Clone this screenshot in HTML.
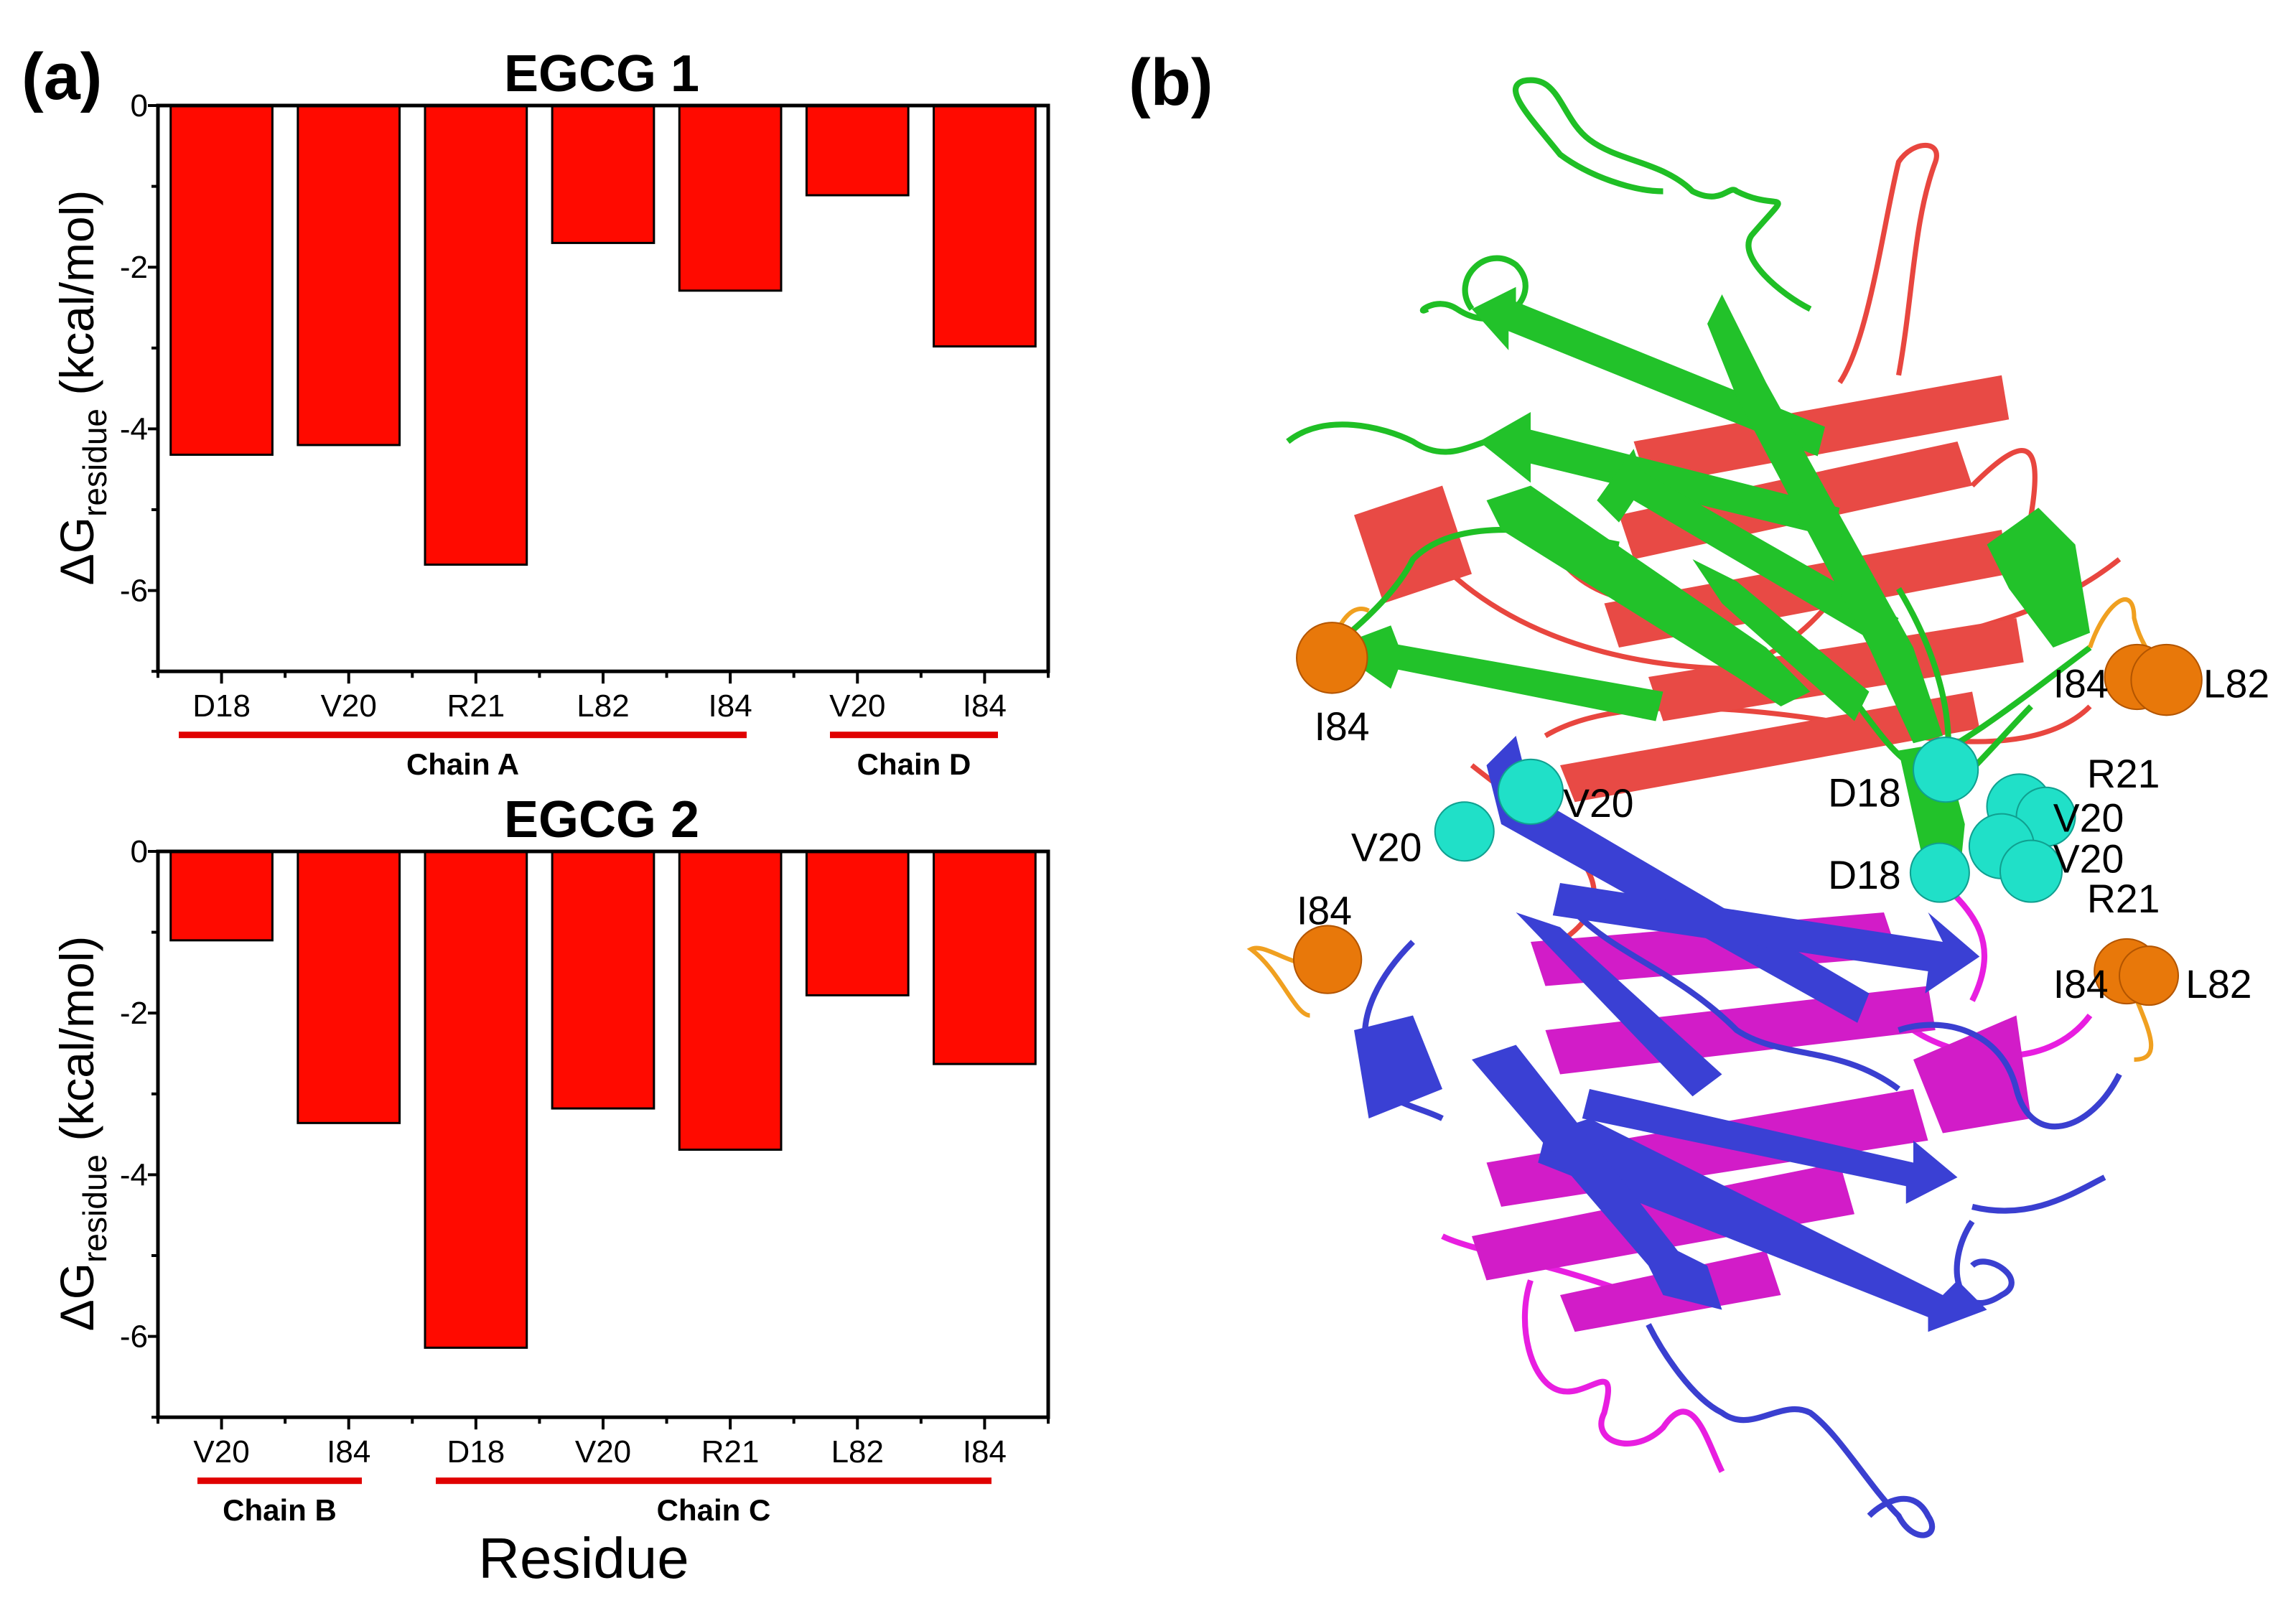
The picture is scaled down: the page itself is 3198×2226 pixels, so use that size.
<!DOCTYPE html>
<html><head><meta charset="utf-8"><style>
html,body{margin:0;padding:0;background:#fff}
svg{display:block}
text{font-family:"Liberation Sans",sans-serif}
</style></head><body>
<svg id="fig" width="3198" height="2226" viewBox="0 0 3198 2226" xmlns="http://www.w3.org/2000/svg">
<rect width="3198" height="2226" fill="#fff"/>
<text x="30" y="138" font-size="92" font-weight="bold">(a)</text>
<text x="1572" y="146" font-size="92" font-weight="bold">(b)</text>
<g id="charts"></g>
<text x="813" y="2198" font-size="80" text-anchor="middle">Residue</text>

<g id="protein" transform="scale(2.05)">
 <g fill="none" stroke="#e8463f" stroke-width="3.5">
  <path d="M1290,255 C1300,200 1300,150 1315,110 C1320,95 1300,95 1290,110 C1280,150 1270,230 1250,260"/>
  <path d="M960,360 C1000,420 1100,470 1250,450 C1330,430 1390,420 1440,380"/>
  <path d="M1050,500 C1100,470 1200,480 1300,500 C1360,510 1400,500 1420,480"/>
  <path d="M1000,520 C1050,560 1120,600 1060,640"/>
  <path d="M1340,330 C1370,300 1390,290 1380,350"/>
  <path d="M1060,380 C1090,420 1140,400 1160,440 C1180,470 1230,430 1250,400"/>
 </g>
 <g fill="#e84a45">
  <polygon points="1110,300 1360,255 1365,285 1120,330"/>
  <polygon points="1100,350 1330,300 1340,330 1110,380"/>
  <polygon points="1090,410 1360,360 1365,390 1100,440"/>
  <polygon points="1120,460 1370,420 1375,450 1130,490"/>
  <polygon points="1060,520 1340,470 1345,495 1070,545"/>
  <polygon points="920,350 980,330 1000,390 940,410"/>
 </g>
 <g fill="none" stroke="#1fbf25" stroke-width="4">
  <path d="M1130,130 C1110,130 1080,120 1060,105 C1040,80 1020,60 1035,55 C1060,50 1060,80 1080,95 C1100,110 1130,110 1150,130 C1170,140 1175,125 1180,130 C1210,145 1220,125 1190,160 C1180,175 1210,200 1230,210"/>
  <path d="M1000,210 C985,190 1010,165 1030,180 C1050,200 1020,230 990,210 C975,200 960,215 970,210"/>
  <path d="M875,300 C900,280 940,290 960,300 C990,320 1010,290 1030,300"/>
  <path d="M905,440 C930,420 950,400 960,380 C990,350 1050,360 1100,370"/>
  <path d="M1290,400 C1320,450 1330,500 1320,530 C1310,560 1360,500 1380,480"/>
  <path d="M1230,440 C1260,470 1280,510 1300,520 C1330,510 1380,470 1420,440"/>
 </g>
 <g fill="#22c22a">
  <polygon points="1000,210 1030,195 1030,205 1240,290 1235,310 1025,225 1025,238"/>
  <polygon points="1005,300 1040,280 1040,292 1250,345 1245,365 1040,315 1040,328"/>
  <polygon points="1085,340 1110,305 1115,320 1290,420 1280,440 1110,340 1100,355"/>
  <polygon points="1170,200 1200,260 1300,440 1320,500 1300,505 1270,440 1180,270 1160,220"/>
  <polygon points="905,440 945,425 950,438 1130,470 1125,490 950,455 945,468"/>
  <polygon points="1010,340 1040,330 1200,440 1230,470 1210,480 1180,460 1020,360"/>
  <polygon points="1150,380 1180,395 1270,470 1260,490 1170,410"/>
  <polygon points="1350,370 1385,345 1410,370 1420,430 1395,440 1365,400"/>
  <polygon points="1290,510 1320,505 1335,560 1330,610 1310,600"/>
 </g>
 <g fill="none" stroke="#e81ee0" stroke-width="4">
  <path d="M1040,870 C1030,900 1040,940 1060,945 C1080,950 1100,920 1090,960 C1080,980 1110,990 1130,970 C1150,940 1160,980 1170,1000"/>
  <path d="M1320,600 C1340,620 1360,640 1340,680"/>
  <path d="M1300,700 C1330,720 1390,730 1420,690"/>
  <path d="M980,840 C1000,850 1060,860 1110,880"/>
 </g>
 <g fill="#d21cc8">
  <polygon points="1040,640 1280,620 1290,650 1050,670"/>
  <polygon points="1050,700 1310,670 1315,700 1060,730"/>
  <polygon points="1010,790 1300,740 1310,775 1020,820"/>
  <polygon points="1000,840 1250,790 1260,825 1010,870"/>
  <polygon points="1060,880 1200,850 1210,880 1070,905"/>
  <polygon points="1300,720 1370,690 1380,760 1320,770"/>
 </g>
 <g fill="none" stroke="#3a3fd0" stroke-width="4">
  <path d="M1120,900 C1130,920 1150,950 1170,960 C1190,975 1210,950 1230,960 C1250,975 1270,1010 1290,1030 C1300,1050 1320,1045 1310,1030 C1300,1010 1280,1020 1270,1030"/>
  <path d="M960,640 C940,660 920,690 930,720 C935,750 960,750 980,760"/>
  <path d="M1340,830 C1320,860 1330,900 1360,880 C1380,870 1350,850 1340,860"/>
  <path d="M1290,700 C1320,690 1360,700 1370,740 C1380,780 1420,770 1440,730"/>
  <path d="M1340,820 C1380,830 1410,810 1430,800"/>
  <path d="M1070,620 C1100,650 1140,660 1180,700 C1210,720 1250,710 1290,740"/>
 </g>
 <g fill="#3a40d4">
  <polygon points="1020,560 1010,520 1030,500 1040,540 1270,675 1262,695"/>
  <polygon points="1060,600 1320,640 1310,620 1345,650 1308,675 1310,660 1055,622"/>
  <polygon points="1030,620 1060,630 1170,730 1150,745"/>
  <polygon points="1080,740 1300,790 1300,775 1330,800 1295,818 1295,806 1075,760"/>
  <polygon points="1050,770 1080,760 1320,880 1330,870 1350,890 1310,905 1310,895 1045,790"/>
  <polygon points="1000,720 1030,710 1140,850 1160,860 1170,890 1130,880 1120,860"/>
  <polygon points="920,700 960,690 980,740 930,760"/>
 </g>
 <g fill="none" stroke="#f0a020" stroke-width="3">
  <path d="M905,440 C910,420 920,410 930,415"/>
  <path d="M1420,440 C1430,410 1450,395 1450,420 C1455,440 1465,450 1470,455"/>
  <path d="M900,655 C880,660 860,640 850,645 C870,660 880,690 890,690"/>
  <path d="M1450,675 C1460,700 1470,720 1450,720"/>
 </g>
 <g fill="#e8780a" stroke="#b35500" stroke-width="1">
  <circle cx="905" cy="447" r="24"/>
  <circle cx="1452" cy="460" r="22"/>
  <circle cx="1472" cy="462" r="24"/>
  <circle cx="902" cy="652" r="23"/>
  <circle cx="1445" cy="660" r="22"/>
  <circle cx="1460" cy="663" r="20"/>
 </g>
 <g fill="#20e0c8" stroke="#10a090" stroke-width="1">
  <circle cx="995" cy="565" r="20"/>
  <circle cx="1040" cy="538" r="22"/>
  <circle cx="1322" cy="523" r="22"/>
  <circle cx="1372" cy="548" r="22"/>
  <circle cx="1390" cy="555" r="20"/>
  <circle cx="1360" cy="575" r="22"/>
  <circle cx="1380" cy="592" r="21"/>
  <circle cx="1318" cy="593" r="20"/>
 </g>
 <g font-size="27" fill="#000">
  <text x="893" y="503">I84</text>
  <text x="1062" y="555">V20</text>
  <text x="918" y="585">V20</text>
  <text x="881" y="628">I84</text>
  <text x="1395" y="474">I84</text>
  <text x="1497" y="474">L82</text>
  <text x="1242" y="548">D18</text>
  <text x="1418" y="535">R21</text>
  <text x="1395" y="565">V20</text>
  <text x="1395" y="593">V20</text>
  <text x="1242" y="604">D18</text>
  <text x="1418" y="620">R21</text>
  <text x="1395" y="678">I84</text>
  <text x="1485" y="678">L82</text>
 </g>
</g>
</svg>
<script>
const cats1 = ["D18","V20","R21","L82","I84","V20","I84"];
const vals1 = [-4.32,-4.20,-5.68,-1.70,-2.29,-1.11,-2.98];
const cats2 = ["V20","I84","D18","V20","R21","L82","I84"];
const vals2 = [-1.10,-3.36,-6.14,-3.18,-3.69,-1.78,-2.63];
const yTicks = [0,-2,-4,-6];
const yTickLabels = ["0","-2","-4","-6"];
const chains1 = [{name:"Chain A",from:0,to:4},{name:"Chain D",from:5,to:6}];
const chains2 = [{name:"Chain B",from:0,to:1},{name:"Chain C",from:2,to:6}];

const NS="http://www.w3.org/2000/svg";
const root=document.getElementById('charts');
function mk(tag,attrs,parent){const e=document.createElementNS(NS,tag);for(const k in attrs)e.setAttribute(k,attrs[k]);parent.appendChild(e);return e;}

function drawChart(title,cats,vals,chains,top,idx,chainSegs){
  const L=220,R=1460,unit=112.6,yMin=-7;
  const bottom=top+(-yMin)*unit;
  const y=v=>top+(-v)*unit;
  const step=(R-L)/cats.length;
  const x=i=>L+step*(i+0.5);
  const g=mk('g',{},root);
  
  
  const t=mk('text',{x:838,y:top-20,'font-size':72,'font-weight':'bold','text-anchor':'middle'},g);
  t.textContent=title;
  
  
  vals.forEach((v,i)=>{
    const bw=step*0.8;
    const b=mk('rect',{x:x(i)-bw/2,y:y(0),width:bw,height:y(v)-y(0),fill:'#ff0a00',stroke:'#000','stroke-width':3},g);
    
    
  });
  const frame=mk('rect',{x:L,y:top,width:R-L,height:bottom-top,fill:'none',stroke:'#000','stroke-width':5},g);
  
  
  for(let v=0;v>=yMin;v--){
    const major=v%2===0;
    mk('line',{x1:L,x2:L-(major?14:9),y1:y(v),y2:y(v),stroke:'#000','stroke-width':4},g);
  }
  yTicks.forEach((v,i)=>{
    const tl=mk('text',{x:206,y:y(v)+15,'font-size':44,'text-anchor':'end'},g);
    tl.textContent=yTickLabels[i];
    
    
  });
  for(let i=0;i<=cats.length;i++) mk('line',{x1:L+step*i,x2:L+step*i,y1:bottom,y2:bottom+9,stroke:'#000','stroke-width':4},g);
  cats.forEach((c,i)=>{
    mk('line',{x1:x(i),x2:x(i),y1:bottom,y2:bottom+17,stroke:'#000','stroke-width':4},g);
    const tl=mk('text',{x:x(i),y:bottom+63,'font-size':44,'text-anchor':'middle'},g);
    tl.textContent=c;
    
    
  });
  chains.forEach((ch,k)=>{
    const s=chainSegs[k];
    const ln=mk('rect',{x:s[0],y:bottom+84,width:s[1]-s[0],height:9,fill:'#e00000'},g);
    
    
    const tl=mk('text',{x:(s[0]+s[1])/2,y:bottom+144,'font-size':42,'font-weight':'bold','text-anchor':'middle'},g);
    tl.textContent=ch.name;
    
    
  });
  const cy=top+393;
  const yl=mk('text',{x:0,y:0,'font-size':66,'text-anchor':'middle',transform:`translate(130,${cy}) rotate(-90)`},g);
  
  
  yl.innerHTML='ΔG<tspan font-size="46" dy="18">residue</tspan><tspan dy="-18"> (kcal/mol)</tspan>';
}
drawChart("EGCG 1",cats1,vals1,chains1,147,1,[[249,1040],[1156,1390]]);
drawChart("EGCG 2",cats2,vals2,chains2,1186,2,[[275,504],[607,1381]]);
</script>
</body></html>
